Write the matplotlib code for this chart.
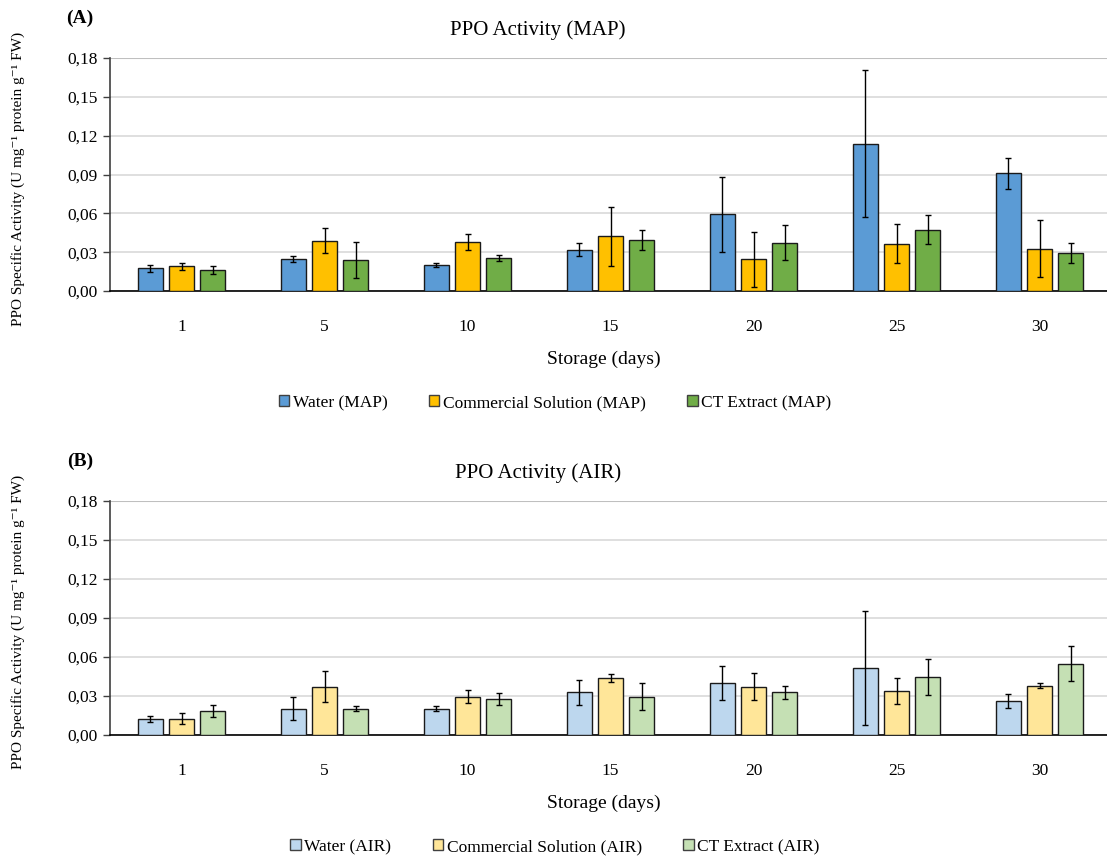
import matplotlib.pyplot as plt
import numpy as np
from matplotlib.patches import Patch
from matplotlib.ticker import FuncFormatter, MultipleLocator

plt.rcParams['font.family'] = ['Liberation Serif', 'DejaVu Serif']

# -------------------------------
# DATA
# -------------------------------
days = ["1", "5", "10", "15", "20", "25", "30"]

map_water = [0.0175, 0.0245, 0.0201, 0.0320, 0.0593, 0.1138, 0.0908]
map_water_err = [0.0026, 0.0022, 0.0018, 0.0053, 0.0290, 0.0566, 0.0120]
map_comm = [0.0193, 0.0390, 0.0379, 0.0423, 0.0245, 0.0364, 0.0328]
map_comm_err = [0.0027, 0.0093, 0.0062, 0.0227, 0.0214, 0.0150, 0.0218]
map_ct = [0.0160, 0.0237, 0.0253, 0.0397, 0.0374, 0.0475, 0.0297]
map_ct_err = [0.0030, 0.0138, 0.0022, 0.0077, 0.0137, 0.0113, 0.0077]

air_water = [0.0126, 0.0203, 0.0203, 0.0329, 0.0399, 0.0517, 0.0262]
air_water_err = [0.0023, 0.0089, 0.0018, 0.0096, 0.0129, 0.0437, 0.0055]
air_comm = [0.0126, 0.0373, 0.0296, 0.0440, 0.0373, 0.0337, 0.0380]
air_comm_err = [0.0044, 0.0118, 0.0048, 0.0033, 0.0103, 0.0102, 0.0017]
air_ct = [0.0188, 0.0203, 0.0278, 0.0296, 0.0329, 0.0447, 0.0550]
air_ct_err = [0.0046, 0.0017, 0.0046, 0.0103, 0.0051, 0.0136, 0.0131]

W, H = 1107, 859
fig = plt.figure(figsize=(W / 100, H / 100), dpi=100)


def fx(px):
    return px / W


def fy(py):
    return 1 - py / H


def panel(top_px, bot_px, series, names, colors, title, tag):
    ax = fig.add_axes([fx(110), fy(bot_px), 1 - fx(110), (bot_px - top_px) / H])
    x = np.arange(len(days))
    offs = [-0.22, 0.0, 0.22]
    for (vals, errs), off, col in zip(series, offs, colors):
        ax.bar(x + off, vals, width=0.175, color=col, edgecolor="#1a1a1a",
               linewidth=1.0, zorder=3)
        ax.errorbar(x + off, vals, yerr=errs, fmt="none", ecolor="black",
                    elinewidth=1.0, capsize=2.5, capthick=1.0, zorder=4)
    ax.set_xlim(-0.5, (W - 110) / 143 - 0.5)
    ax.set_ylim(0, 0.18)
    ax.yaxis.set_major_locator(MultipleLocator(0.03))
    ax.yaxis.set_major_formatter(FuncFormatter(lambda v, p: f"{v:.2f}".replace(".", ",")))
    ax.set_xticks(x)
    ax.set_xticklabels(days)
    ax.tick_params(axis="x", length=0, pad=20, labelsize=12.5)
    ax.tick_params(axis="y", length=5, width=1, color="#404040", direction="out",
                   labelsize=12.5, pad=4)
    ax.grid(axis="y", color="#d9d9d9", linewidth=1.2, zorder=0)
    ax.axhline(0.18, color="#bfbfbf", linewidth=1.5, zorder=1)
    ax.set_axisbelow(True)
    for s in ["top", "right"]:
        ax.spines[s].set_visible(False)
    ax.spines["left"].set_color("#404040")
    ax.spines["left"].set_linewidth(1.2)
    ax.spines["bottom"].set_color("black")
    ax.spines["bottom"].set_linewidth(1.2)

    fig.text(fx(538), fy(top_px - 28), title, ha="center", va="center", fontsize=15)
    fig.text(fx(80), fy(top_px - 40), tag, ha="center", va="center", fontsize=14,
             fontweight="bold")
    fig.text(fx(18), fy((top_px + bot_px) / 2 + 4),
             "PPO Specific Activity (U mg\u207b\u00b9 protein g\u207b\u00b9 FW)",
             rotation=90, ha="center", va="center", fontsize=11)
    fig.text(fx(604), fy(bot_px + 68), "Storage (days)", ha="center", va="center",
             fontsize=14)
    handles = [Patch(facecolor=c, edgecolor="#404040", label=n)
               for c, n in zip(colors, names)]
    fig.legend(handles=handles, loc="center", ncol=3, frameon=False,
               bbox_to_anchor=(fx(555), fy(bot_px + 112)), fontsize=12.5,
               handlelength=0.6, handleheight=0.6, handletextpad=0.2,
               columnspacing=2.4)
    return ax


panel(58, 291,
      [(map_water, map_water_err), (map_comm, map_comm_err), (map_ct, map_ct_err)],
      ["Water (MAP)", "Commercial Solution (MAP)", "CT Extract (MAP)"],
      ["#5b9bd5", "#ffc000", "#70ad47"], "PPO Activity (MAP)", "(A)")

panel(501, 735,
      [(air_water, air_water_err), (air_comm, air_comm_err), (air_ct, air_ct_err)],
      ["Water (AIR)", "Commercial Solution (AIR)", "CT Extract (AIR)"],
      ["#bdd7ee", "#ffe699", "#c5e0b4"], "PPO Activity (AIR)", "(B)")

fig.savefig("out.png", dpi=100)
